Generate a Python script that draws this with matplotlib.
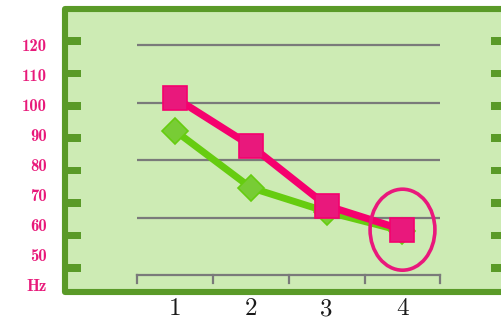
import matplotlib
matplotlib.use("Agg")
import matplotlib.pyplot as plt
from matplotlib.lines import Line2D
from matplotlib.patches import Rectangle, Ellipse
from matplotlib.transforms import blended_transform_factory

# Data
positions = [1, 2, 3, 4]
x_labels = ["1", "2", "3", "4"]
red_series = [103, 87, 67, 59]
green_series = [92, 73, 65, 58.5]
y_tick_values = [120, 110, 100, 90, 80, 70, 60, 50, 40]
y_tick_labels = ["120", "110", "100", "90", "80", "70", "60", "50", "Hz"]

# Colours
BG = "#cdebb4"
FRAME = "#5a9a28"
GRID = "#7a7a7a"
PINK_LINE = "#f5006e"
PINK_FILL = "#e9187c"
LABEL_PINK = "#e8197a"
GREEN_LINE = "#66cc10"
GREEN_FILL = "#78cc35"

W, H = 502, 322
fig = plt.figure(figsize=(W / 100, H / 100), dpi=100)
fig.patch.set_facecolor("white")


def fx(px):
    return px / W


def fy(py):
    return 1 - py / H


# Panel background and frame (kept beneath the axes)
fig.patches.append(Rectangle((fx(65), fy(292)), fx(520) - fx(65), fy(9) - fy(292),
                             transform=fig.transFigure, facecolor=BG, edgecolor="none", zorder=-3))
fig.lines.append(Line2D([fx(520), fx(65), fx(65), fx(520)], [fy(9), fy(9), fy(292), fy(292)],
                        transform=fig.transFigure, color=FRAME, lw=4.4,
                        solid_joinstyle="round", zorder=-2))

# Short tick marks on both sides of the panel
for k in range(8):
    yc = 41 + 32.4 * k
    for x0, x1 in [(65, 81), (491, 505)]:
        fig.patches.append(Rectangle((fx(x0), fy(yc + 3.8)), fx(x1) - fx(x0), fy(yc - 3.8) - fy(yc + 3.8),
                                     transform=fig.transFigure, facecolor=FRAME,
                                     edgecolor="none", zorder=-2))

ax = fig.add_axes([0, 0, 1, 1])
ax.set_facecolor("none")
ax.set_zorder(1)
ax.set_xlim(-1.3078, 5.3122)
ax.set_ylim(28.233, 135.567)
ax.axis("off")

xb = blended_transform_factory(ax.transData, fig.transFigure)
yb = blended_transform_factory(fig.transFigure, ax.transData)

# Horizontal guide lines
for py in [45, 103, 160, 218]:
    ax.plot([0.5, 4.5], [fy(py), fy(py)], transform=xb, color=GRID, lw=1.6, zorder=2,
            solid_capstyle="butt")

# Category bracket along the bottom
ax.plot([0.5, 4.5], [fy(275), fy(275)], transform=xb, color=GRID, lw=1.6, zorder=2)
for b in [0.5, 1.5, 2.5, 3.5, 4.5]:
    ax.plot([b, b], [fy(275), fy(283)], transform=xb, color=GRID, lw=1.6, zorder=2)

# Series
ax.plot(positions, green_series, color=GREEN_LINE, lw=5, zorder=3,
        marker="D", markersize=12.8, markerfacecolor=GREEN_FILL,
        markeredgecolor=GREEN_LINE, markeredgewidth=1.2)
ax.plot(positions, red_series, color=PINK_LINE, lw=5.2, zorder=4,
        marker="s", markersize=17.5, markerfacecolor=PINK_FILL,
        markeredgecolor=PINK_LINE, markeredgewidth=1.2)

# Highlight around the last point
ax.add_patch(Ellipse((positions[3], red_series[3]), 0.855, 27, fill=False,
                     edgecolor=PINK_FILL, lw=2.6, zorder=5))

# Axis labels
for v, lab in zip(y_tick_values, y_tick_labels):
    ax.text(fx(46.5), v, lab, transform=yb, ha="right", va="center",
            family="cmb10", fontsize=12, color=LABEL_PINK)
for p, lab in zip(positions, x_labels):
    ax.text(p, fy(309), lab, transform=xb, ha="center", va="center",
            family="cmr10", fontsize=18, color="#1a1a1a")

fig.savefig("out.png", dpi=100, facecolor="white")
